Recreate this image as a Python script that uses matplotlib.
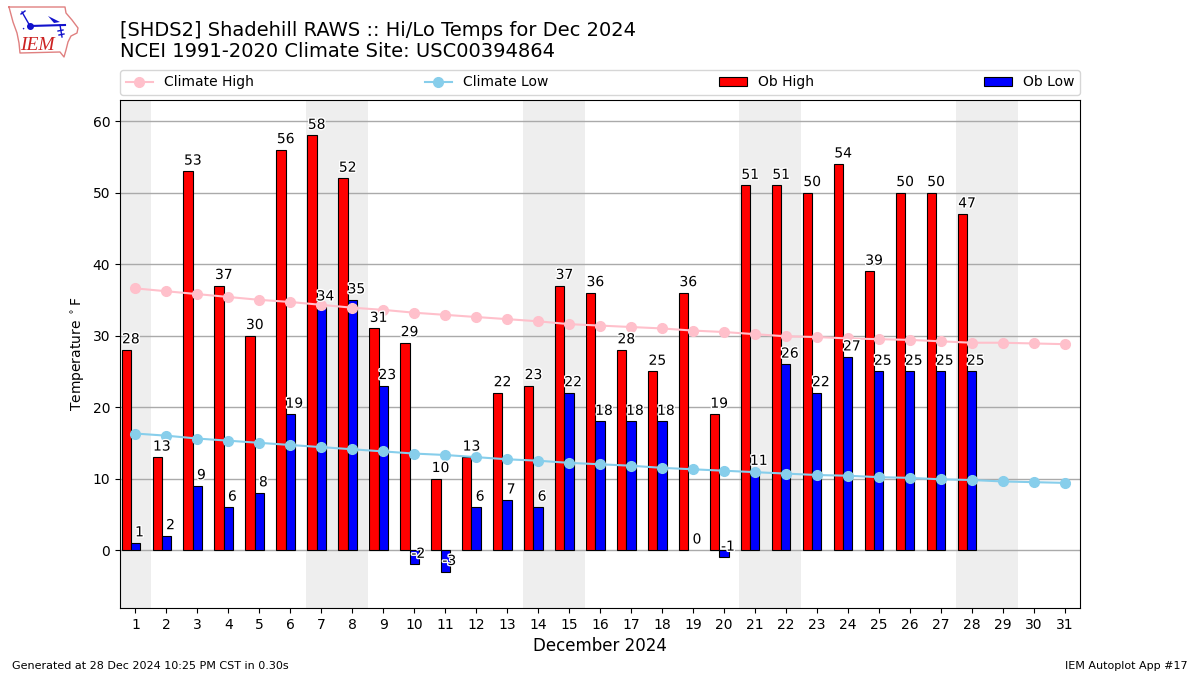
import matplotlib
matplotlib.use("Agg")
import matplotlib.pyplot as plt
import matplotlib.patheffects as pe
import numpy as np

days = list(range(1, 32))
ob_high = [28, 13, 53, 37, 30, 56, 58, 52, 31, 29, 10, 13, 22, 23, 37, 36, 28, 25, 36, 19, 51, 51, 50, 54, 39, 50, 50, 47]
ob_low = [1, 2, 9, 6, 8, 19, 34, 35, 23, -2, -3, 6, 7, 6, 22, 18, 18, 18, 0, -1, 11, 26, 22, 27, 25, 25, 25, 25]
climate_high = [36.6, 36.2, 35.8, 35.4, 35.0, 34.7, 34.3, 33.9, 33.6, 33.2, 32.9, 32.6, 32.3, 32.0, 31.6, 31.4,
                31.2, 31.0, 30.7, 30.5, 30.2, 29.9, 29.8, 29.6, 29.5, 29.4, 29.2, 29.0, 29.0, 28.9, 28.8]
climate_low = [16.3, 16.0, 15.6, 15.3, 15.0, 14.7, 14.4, 14.1, 13.8, 13.5, 13.3, 13.0, 12.7, 12.5, 12.2, 12.0,
               11.8, 11.5, 11.3, 11.1, 10.9, 10.7, 10.5, 10.4, 10.2, 10.1, 9.9, 9.8, 9.6, 9.5, 9.4]
weekends = [(0.5, 1.5), (6.5, 8.5), (13.5, 15.5), (20.5, 22.5), (27.5, 29.5)]

fig = plt.figure(figsize=(12, 6.75), dpi=100)
ax = fig.add_axes([120 / 1200, 1 - 608 / 675, 960 / 1200, 508 / 675])

# weekend shading
for start, end in weekends:
    ax.axvspan(start, end, color="#eeeeee", lw=0, zorder=0)

ax.set_axisbelow(True)
ax.grid(axis="y", color="#aaaaaa", lw=1, zorder=1)

obs_days = np.array(days[:len(ob_high)])
ax.bar(obs_days - 0.3, ob_high, width=0.3, color="red", edgecolor="black", lw=0.8, zorder=2, label="Ob High")
low_bars = ax.bar(obs_days, ob_low, width=0.3, color="blue", edgecolor="black", lw=0.8, zorder=2, label="Ob Low")
# a zero height bar should not leave a black stub on the axis line
for bar, lo in zip(low_bars, ob_low):
    if lo == 0:
        bar.set_linewidth(0)

ax.plot(days, climate_high, marker="o", color="pink", markersize=7, zorder=4, label="Climate High")
ax.plot(days, climate_low, marker="o", color="skyblue", markersize=7, zorder=4, label="Climate Low")

# value labels, white outline so they stay readable over the bars
stroke = [pe.withStroke(linewidth=2, foreground="white")]
for d, hi, lo in zip(obs_days, ob_high, ob_low):
    ax.text(d - 0.15, hi + 0.5, str(hi), ha="center", va="bottom", fontsize=10, path_effects=stroke, zorder=5)
    ax.text(d + 0.13, lo + 0.5, str(lo), ha="center", va="bottom", fontsize=10, path_effects=stroke, zorder=5)

ax.set_xlim(0.5, 31.5)
ax.set_ylim(-8.1, 62.95)
ax.set_xticks(days)
ax.set_yticks(range(0, 61, 10))
ax.tick_params(labelsize=10)
ax.set_xlabel("December 2024", fontsize=12)
ax.set_ylabel(r"Temperature $^\circ$F", fontsize=10)

handles, labels = ax.get_legend_handles_labels()
order = [labels.index(n) for n in ["Climate High", "Climate Low", "Ob High", "Ob Low"]]
ax.legend([handles[i] for i in order], [labels[i] for i in order], ncol=4, mode="expand",
          loc="lower left", bbox_to_anchor=(0, 1.01, 1, 0.05), borderaxespad=0, fontsize=10)

fig.text(120 / 1200, 1 - 61 / 675, "[SHDS2] Shadehill RAWS :: Hi/Lo Temps for Dec 2024\nNCEI 1991-2020 Climate Site: USC00394864",
         fontsize=14, ha="left", va="bottom", linespacing=1.1)
fig.text(12 / 1200, 1 - 671 / 675, "Generated at 28 Dec 2024 10:25 PM CST in 0.30s", fontsize=8, ha="left", va="bottom")
fig.text(1188 / 1200, 1 - 671 / 675, "IEM Autoplot App #17", fontsize=8, ha="right", va="bottom")

# IEM logo, drawn by hand in pixel coordinates
logo = fig.add_axes([0, 1 - 60 / 675, 85 / 1200, 60 / 675])
logo.set_xlim(0, 85)
logo.set_ylim(60, 0)
logo.axis("off")
outline_x = [9, 65, 66, 72, 78, 77, 71, 68, 66, 64, 60, 20, 19, 17, 13, 9]
outline_y = [7, 7, 13, 20, 28, 33, 36, 42, 50, 57, 52, 53, 43, 33, 22, 7]
logo.plot(outline_x, outline_y, color="#e08080", lw=1)
logo.text(37, 45, "IEM", color="#cc2222", fontsize=14, family="Liberation Serif", style="italic", ha="center", va="center")
logo.plot([30, 65], [26, 25], color="#1111cc", lw=1.5)
logo.plot([30], [26], marker="o", color="#1111cc", markersize=4)
logo.plot([22, 30], [12, 26], color="#1111cc", lw=1)
logo.plot([21, 25], [14, 11], color="#1111cc", lw=1)
logo.fill([48, 60, 54], [16, 22, 23], color="#1111cc", lw=0)
logo.plot([60, 62], [25, 37], color="#1111cc", lw=1)
logo.plot([58, 63], [31, 30], color="#1111cc", lw=1)
logo.plot([59, 64], [35, 34], color="#1111cc", lw=1)
logo.plot([23, 26], [29, 27], color="#1111cc", lw=1, ls=":")

fig.savefig("out.png", dpi=100)
